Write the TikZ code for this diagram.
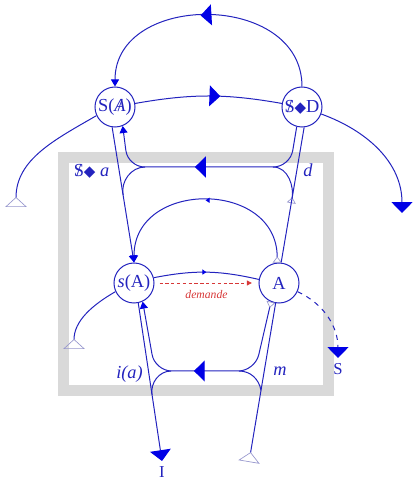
\documentclass[tikz,border=0pt]{standalone}
\usepackage{fontspec}
\setmainfont{Liberation Serif}
\newfontfamily\symbfont{DejaVu Sans}
\usepackage{xcolor}
\usepackage{tikz}
\usetikzlibrary{arrows.meta,positioning,calc,decorations.markings}

\definecolor{wirec}{RGB}{35,35,190}
\definecolor{fillc}{RGB}{0,0,230}
\definecolor{tailc}{RGB}{150,150,205}
\definecolor{demc}{RGB}{215,55,55}
\definecolor{framec}{RGB}{217,217,217}

\newcommand{\barred}[1]{\ooalign{#1\cr\hidewidth/\hidewidth\cr}}
\newcommand{\losange}{{\symbfont\small ◆}}

\begin{document}
\begin{tikzpicture}[x=0.6pt, y=0.6pt,
    place/.style={circle, draw=wirec, line width=0.6pt, minimum size=24pt, inner sep=0pt, text=wirec, font=\fontsize{11}{13}\selectfont},
    wire/.style={draw=wirec, line width=0.6pt},
    lbl/.style={text=wirec, font=\fontsize{11}{13}\selectfont\itshape, inner sep=0pt},
    bigtip/.tip={Triangle[length=6.5pt, width=12.5pt, color=fillc]},
    smalltip/.tip={Triangle[length=4.2pt, width=4.8pt, color=fillc]},
    tinytip/.tip={Triangle[length=2.4pt, width=3pt, color=fillc]},
    bigtail/.tip={Triangle[open, reversed, length=6pt, width=13pt, color=tailc, line width=0.4pt]},
    smalltail/.tip={Triangle[open, reversed, length=3.6pt, width=5.4pt, color=tailc, line width=0.4pt]},
    midtip/.style={postaction={decorate}, decoration={markings, mark=at position #1 with {\arrow{bigtip}}}},
    midsmall/.style={postaction={decorate}, decoration={markings, mark=at position #1 with {\arrow{tinytip}}}}]
    \useasboundingbox (0,0) rectangle (418,489);
    \draw [framec, line width=6.6pt] (63.5,98.5) rectangle (328.5,331.5);

    \node (SA) [place] at (115,382) {S(\barred{\textit{A}})};
    \node (SD) [place, right=87.6pt of SA] {\barred{S}\losange D};
    \node (sA) [place] at (134,206) {\textit{s}(A)};
    \node (A) [place, right=62.4pt of sA] {A};

    \coordinate (tSA) at (16,282);
    \coordinate (tSD) at (402,276);
    \coordinate (tsA) at (74,140);
    \coordinate (tS) at (338,131);
    \coordinate (tm) at (249,27);
    \coordinate (tI) at (162,28);
    \coordinate (jSA) at ($(SA.262)!.5!(sA.north)$);
    \coordinate (jD) at ($(A.84)!.44!(SD.-84)$);
    \coordinate (jm) at ($(tm)!.4!(A)$);
    \coordinate (jI) at ($(sA.-78)!.58!(tI)$);

    \draw [wire, midtip=0.53, -smalltip] (SD.north) .. controls +(0,95) and +(0,95) .. (SA.north);
    \draw [wire, midtip=0.58] (SA.10) to[bend left=10] (SD.170);
    \draw [wire, bigtail-] (tSA) to[out=90, in=210] (SA.205);
    \draw [wire, -bigtip] (SD.340) to[out=-20, in=90] (tSD);

    \draw [wire, rounded corners=10pt, midtip=0.56, -smalltip] (SD.255) -- (290,322) -- (128,322) -- (SA.292);
    \draw [wire] (145,322) to[out=180, in=100] (jSA);
    \draw [wire, smalltail-] (jD) to[out=80, in=0] (273,322);
    \draw [wire, -smalltip] (SA.262) -- (sA.north);
    \draw [wire] (A.84) -- (SD.-84);

    \draw [wire, midsmall=0.5, smalltail-smalltip] (A.95) .. controls +(0,83) and +(0,83) .. (sA.north);
    \draw [wire, midsmall=0.5] (sA.15) to[bend left=12] (A.170);
    \draw [demc, dash pattern=on 2pt off 1.5pt, line width=0.5pt, -{Triangle[length=3pt, width=3pt]}, shorten <=3pt, shorten >=4pt] (sA.east) -- node (dem) [below=1pt, font=\fontsize{7}{8}\selectfont\itshape, text=demc] {demande} (A.west);

    \draw [wire, rounded corners=10pt, midtip=0.55, smalltail-smalltip] (A.247) -- (255,118) -- (155,118) -- (sA.-65);
    \draw [wire, bigtail-] (tm) -- (A);
    \draw [wire] (jm) to[out=100, in=0] (239,118);
    \draw [wire, -bigtip] (sA.-78) -- (tI);
    \draw [wire] (171,118) to[out=180, in=99] (jI);

    \draw [wire, bigtail-] (tsA) to[out=90, in=210] (sA.205);
    \draw [wire, dashed, -bigtip] (A.-25) to[out=-25, in=90] (tS);

    \node (labI) [below=0pt of tI, text=wirec] {I};
    \node (labS) [below=0pt of tS, text=wirec] {S};
    \node (labd) [lbl] at (308,319) {d};
    \node (labm) [lbl] at (280,118) {m};
    \node (labi) [lbl] at (129.5,115) {i(a)};
    \node (labSa) [lbl] at (91.5,318) {\textup{\barred{S}}\losange\ a};
\end{tikzpicture}
\end{document}
